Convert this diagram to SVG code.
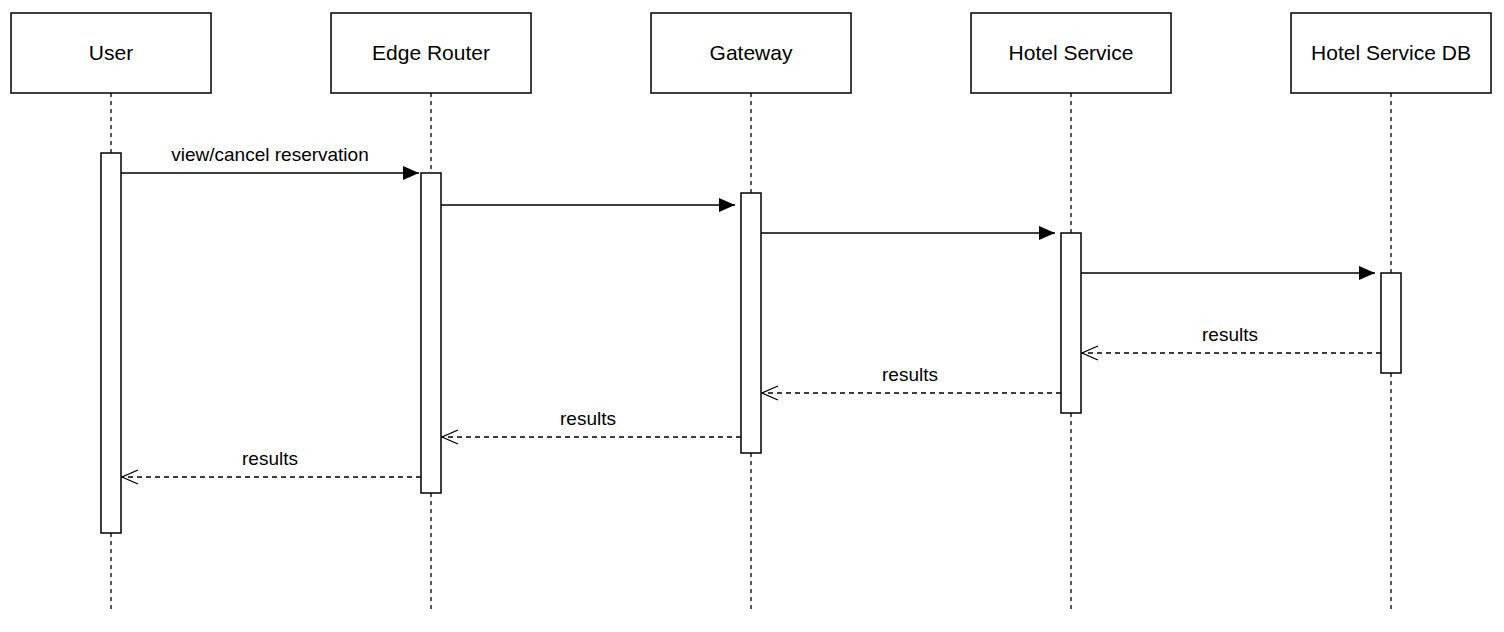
<svg xmlns="http://www.w3.org/2000/svg" width="1504" height="632" viewBox="0 0 1504 632">
<style>
.box{fill:#fff;stroke:#000;stroke-width:1.5}
.life{stroke:#000;stroke-width:1.3;stroke-dasharray:4,4;fill:none}
.t{font-family:"Liberation Sans",Arial,sans-serif;font-size:21px;text-anchor:middle;fill:#000}
.l{font-family:"Liberation Sans",Arial,sans-serif;font-size:19px;text-anchor:middle;fill:#000}
.msg{stroke:#000;stroke-width:1.5;fill:none;marker-end:url(#solid)}
.ret{stroke:#000;stroke-width:1.3;stroke-dasharray:5,4;fill:none;marker-end:url(#open)}
</style>
<defs>
<marker id="solid" viewBox="0 0 16 14" refX="16" refY="7" markerWidth="16" markerHeight="14" markerUnits="userSpaceOnUse" orient="auto"><path d="M0,0 L16,7 L0,14 Z" fill="#000"/></marker>
<marker id="open" viewBox="0 0 18 16" refX="17" refY="8" markerWidth="18" markerHeight="16" markerUnits="userSpaceOnUse" orient="auto"><path d="M1,1 L17,8 L1,15" fill="none" stroke="#000" stroke-width="1.3"/></marker>
</defs>
<g id="user"><line class="life" x1="111" y1="93" x2="111" y2="612"/><rect class="box" x="11" y="13" width="200" height="80"/><text class="t" x="111" y="60">User</text><rect class="box" x="101" y="153" width="20" height="380"/></g>
<g id="edge"><line class="life" x1="431" y1="93" x2="431" y2="612"/><rect class="box" x="331" y="13" width="200" height="80"/><text class="t" x="431" y="60">Edge Router</text><rect class="box" x="421" y="173" width="20" height="320"/></g>
<g id="gateway"><line class="life" x1="751" y1="93" x2="751" y2="612"/><rect class="box" x="651" y="13" width="200" height="80"/><text class="t" x="751" y="60">Gateway</text><rect class="box" x="741" y="193" width="20" height="260"/></g>
<g id="hotel"><line class="life" x1="1071" y1="93" x2="1071" y2="612"/><rect class="box" x="971" y="13" width="200" height="80"/><text class="t" x="1071" y="60">Hotel Service</text><rect class="box" x="1061" y="233" width="20" height="180"/></g>
<g id="db"><line class="life" x1="1391" y1="93" x2="1391" y2="612"/><rect class="box" x="1291" y="13" width="200" height="80"/><text class="t" x="1391" y="60">Hotel Service DB</text><rect class="box" x="1381" y="273" width="20" height="100"/></g>
<g id="connectors">
<line class="msg" x1="121" y1="173" x2="419" y2="173"/><text class="l" x="270" y="161">view/cancel reservation</text>
<line class="msg" x1="441" y1="205" x2="735" y2="205"/>
<line class="msg" x1="761" y1="233" x2="1055" y2="233"/>
<line class="msg" x1="1081" y1="273" x2="1375" y2="273"/>
<line class="ret" x1="1381" y1="353" x2="1082" y2="353"/><text class="l" x="1230" y="341">results</text>
<line class="ret" x1="1061" y1="393" x2="762" y2="393"/><text class="l" x="910" y="381">results</text>
<line class="ret" x1="741" y1="437" x2="442" y2="437"/><text class="l" x="588" y="425">results</text>
<line class="ret" x1="421" y1="477" x2="122" y2="477"/><text class="l" x="270" y="465">results</text>
</g>
</svg>
